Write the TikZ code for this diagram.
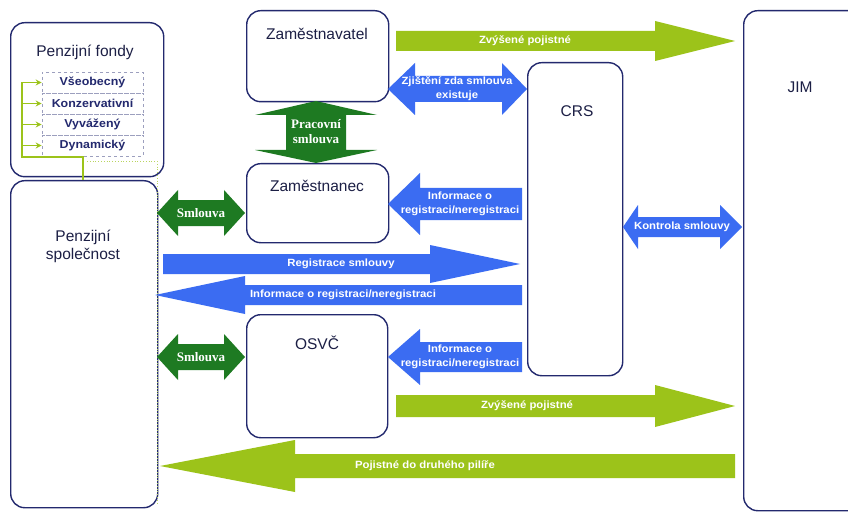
\documentclass[tikz,border=0pt]{standalone}
\usepackage{fontspec}
\setmainfont{Liberation Sans}
\newfontfamily\serifb{Liberation Serif}
\newfontfamily\widesans[FakeStretch=1.08]{Liberation Sans}
\usetikzlibrary{arrows.meta}
\definecolor{navy}{HTML}{23296E}
\definecolor{ablue}{HTML}{3B6CF2}
\definecolor{dgreen}{HTML}{1E7A22}
\definecolor{lgreen}{HTML}{9CC31A}
\definecolor{txt}{HTML}{1C1F45}
% right arrow: x1 xhead xtip yc bodyhalf headhalf color
\newcommand{\RArrow}[7]{\fill[#7] (#1,#4-#5) -- (#2,#4-#5) -- (#2,#4-#6) -- (#3,#4) -- (#2,#4+#6) -- (#2,#4+#5) -- (#1,#4+#5) -- cycle;}
% left arrow: xtip xhead xend yc bodyhalf headhalf color
\newcommand{\LArrow}[7]{\fill[#7] (#1,#4) -- (#2,#4-#6) -- (#2,#4-#5) -- (#3,#4-#5) -- (#3,#4+#5) -- (#2,#4+#5) -- (#2,#4+#6) -- cycle;}
% double horizontal: xtip1 xh1 xh2 xtip2 yc bodyhalf headhalf color
\newcommand{\DArrow}[8]{\fill[#8] (#1,#5) -- (#2,#5-#7) -- (#2,#5-#6) -- (#3,#5-#6) -- (#3,#5-#7) -- (#4,#5) -- (#3,#5+#7) -- (#3,#5+#6) -- (#2,#5+#6) -- (#2,#5+#7) -- cycle;}
% double vertical: xc ytip1 yh1 yh2 ytip2 bodyhalf headhalf color
\newcommand{\VArrow}[8]{\fill[#8] (#1,#2) -- (#1+#7,#3) -- (#1+#6,#3) -- (#1+#6,#4) -- (#1+#7,#4) -- (#1,#5) -- (#1-#7,#4) -- (#1-#6,#4) -- (#1-#6,#3) -- (#1-#7,#3) -- cycle;}
\tikzset{
  box/.style={draw=navy, line width=1.4pt, rounded corners=14pt, fill=white, anchor=north west, inner sep=0pt},
  lbl/.style={text=txt, font=\fontsize{15.5}{18}\selectfont, align=center},
  alab/.style={text=white, font=\fontsize{10.5}{14}\selectfont\widesans\bfseries, align=center, inner sep=0pt},
  slab/.style={text=white, font=\fontsize{13}{15}\selectfont\serifb\bfseries, align=center, inner sep=0pt},
  fundrow/.style={draw=navy!45, dashed, line width=0.6pt, minimum width=101pt, minimum height=21pt, inner sep=0pt, text=navy, font=\fontsize{11.5}{12}\selectfont\widesans\bfseries},
  garrow/.style={draw=lgreen, line width=1.6pt, -{Stealth[length=6pt,width=6pt]}},
}
\begin{document}
\begin{tikzpicture}[x=1pt,y=-1pt]
\useasboundingbox[fill=white] (0,0) rectangle (848,513);

% boxes
\node[box, minimum width=153pt, minimum height=154pt] (pf) at (10,22) {};
\node[lbl] at (85,52) {Penzijní fondy};
\node[box, minimum width=147pt, minimum height=327pt] (ps) at (10,180) {};
\node[lbl] at (83,246) {Penzijní\\společnost};
\node[box, minimum width=142pt, minimum height=91pt] (zl) at (246,10) {};
\node[lbl] at (317,34) {Zaměstnavatel};
\node[box, minimum width=142pt, minimum height=79pt] (zc) at (246,163) {};
\node[lbl] at (317,186) {Zaměstnanec};
\node[box, minimum width=141pt, minimum height=123pt] (os) at (246,314) {};
\node[lbl] at (317,343) {OSVČ};
\node[box, minimum width=95pt, minimum height=313pt] (crs) at (527,62) {};
\node[lbl] at (577,111) {CRS};
\node[box, minimum width=120pt, minimum height=500pt] (jim) at (743,10) {};
\node[lbl] at (800,87) {JIM};

% fund list
\node[fundrow] (f1) at (92.5,82.5) {Všeobecný};
\node[fundrow] (f2) at (92.5,103.5) {Konzervativní};
\node[fundrow] (f3) at (92.5,124.5) {Vyvážený};
\node[fundrow] (f4) at (92.5,145.5) {Dynamický};
\coordinate (b1) at (22,82.5);
\coordinate (bb) at (22,157);
\coordinate (bc) at (83,157);
\draw[lgreen, line width=1.6pt] (b1) -- (bb) -- (bc) -- (bc |- ps.north);
\foreach \i in {1,2,3,4} {\draw[garrow] (22,0 |- f\i.west) -- (f\i.west);}
\draw[lgreen!70, dotted, line width=0.8pt] (87,161) -- (157,161) -- (157,505);

% top green arrow
\RArrow{396}{655}{735}{41}{10}{20}{lgreen}
\node[alab] at (525,41) {Zvýšené pojistné};
% Zjisteni
\DArrow{388}{415}{502}{527}{89}{13}{26}{ablue}
\node[alab] at (457,89) {Zjištění zda smlouva\\existuje};
% Pracovni smlouva
\VArrow{316}{101}{115}{150}{163}{30}{61}{dgreen}
\node[slab] at (316,132) {Pracovní\\smlouva};
% Informace upper
\LArrow{388}{420}{522}{204}{16}{31}{ablue}
\node[alab] at (460,204) {Informace o\\registraci/neregistraci};
% Smlouva upper
\DArrow{157}{178}{224}{245}{213}{13}{23}{dgreen}
\node[slab] at (201,213) {Smlouva};
% Kontrola smlouvy
\DArrow{623}{638}{720}{742}{227}{10}{22}{ablue}
\node[alab] at (682,227) {Kontrola smlouvy};
% Registrace
\RArrow{163}{430}{520}{264}{10}{19}{ablue}
\node[alab] at (341,264) {Registrace smlouvy};
% Informace middle
\LArrow{155}{245}{522}{295}{10}{19}{ablue}
\node[alab] at (343,295) {Informace o registraci/neregistraci};
% Smlouva lower
\DArrow{157}{178}{224}{245}{357}{13}{23}{dgreen}
\node[slab] at (201,357) {Smlouva};
% Informace lower
\LArrow{388}{420}{522}{357}{15}{28}{ablue}
\node[alab] at (460,357) {Informace o\\registraci/neregistraci};
% lower green
\RArrow{396}{655}{735}{406}{11}{21}{lgreen}
\node[alab] at (527,406) {Zvýšené pojistné};
% Pojistne do druheho pilire
\LArrow{160}{295}{735}{466}{12}{26}{lgreen}
\node[alab] at (425,466) {Pojistné do druhého pilíře};
\end{tikzpicture}
\end{document}
